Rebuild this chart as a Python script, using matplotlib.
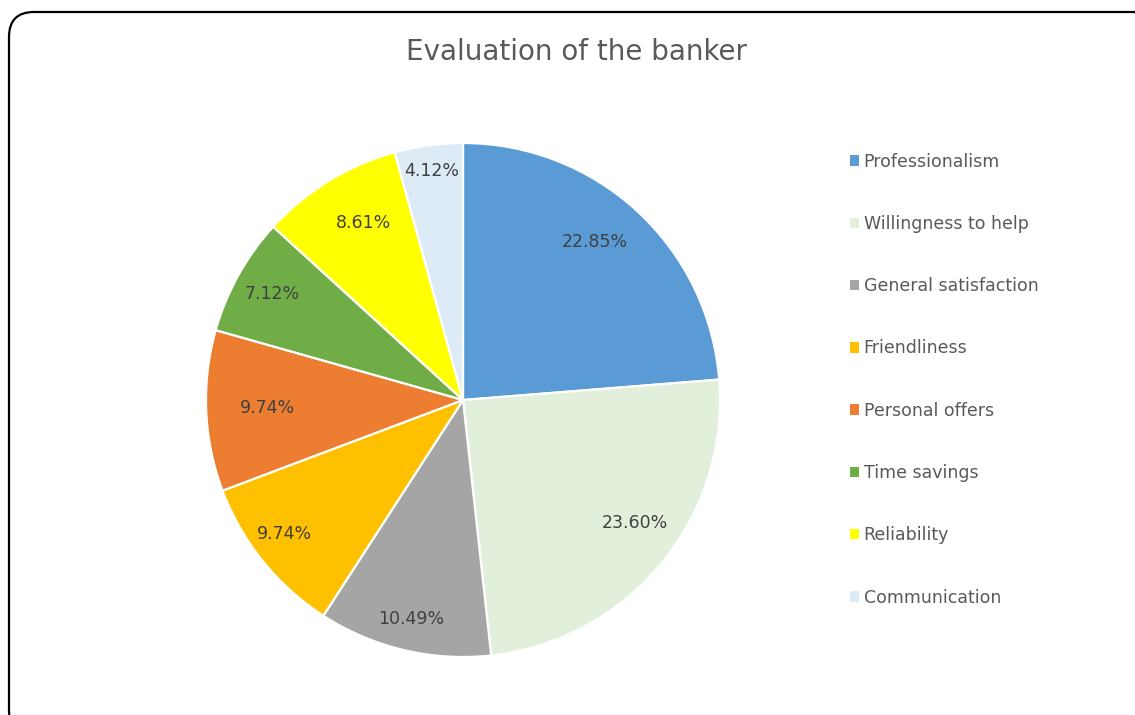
import matplotlib
matplotlib.use("Agg")
import numpy as np
import matplotlib.pyplot as plt
from matplotlib.patches import FancyBboxPatch

plt.rcParams['font.family'] = ['DejaVu Sans']

categories = ["Professionalism", "Willingness to help", "General satisfaction",
              "Friendliness", "Personal offers", "Time savings", "Reliability",
              "Communication"]
values = [22.85, 23.60, 10.49, 9.74, 9.74, 7.12, 8.61, 4.12]
labels = ["22.85%", "23.60%", "10.49%", "9.74%", "9.74%", "7.12%", "8.61%", "4.12%"]
colors = ["#5B9BD5", "#E2EFDA", "#A5A5A5", "#FFC000", "#ED7D31", "#70AD47",
          "#FFFF00", "#DDEBF7"]
# label placement (excel "best fit" style): radius fraction and angle nudge
label_r = [0.80, 0.82, 0.875, 0.87, 0.76, 0.85, 0.79, 0.90]
label_da = [3, 4, 0, -2, 0, 0, -2, 0]

W, H = 1135, 715
fig = plt.figure(figsize=(W / 100, H / 100), dpi=100)

# chart border (rounded, runs off the right/bottom edge)
border = FancyBboxPatch((9 / W, -20 / H), 1150 / W, 723 / H,
                        boxstyle="round,pad=0,rounding_size=0.022",
                        transform=fig.transFigure, fill=False,
                        edgecolor="black", linewidth=1.6,
                        mutation_aspect=W / H)
fig.patches.append(border)

fig.text(577 / W, 1 - 52 / H, "Evaluation of the banker", ha="center",
         va="center", fontsize=20, color="#595959")

cx, cy, r = 463, 400, 257
ax = fig.add_axes([(cx - r) / W, (H - cy - r) / H, 2 * r / W, 2 * r / H])
wedges, _ = ax.pie(values, colors=colors, startangle=90, counterclock=False,
                   wedgeprops=dict(edgecolor="white", linewidth=1.6))
for w, lab, rr, da in zip(wedges, labels, label_r, label_da):
    ang = np.deg2rad((w.theta1 + w.theta2) / 2 + da)
    ax.text(rr * np.cos(ang), rr * np.sin(ang), lab, ha="center", va="center",
            fontsize=12.5, color="#404040")
ax.set_xlim(-1, 1)
ax.set_ylim(-1, 1)
ax.set_aspect("equal")

leg = fig.legend(wedges, categories, loc="upper left",
                 bbox_to_anchor=(834 / W, 1 - 137 / H), frameon=False,
                 fontsize=12.5, handlelength=0.55, handleheight=0.55,
                 handletextpad=0.25, labelspacing=2.55, labelcolor="#595959")
for h in leg.legend_handles:
    h.set_edgecolor("none")

fig.savefig("out.png", dpi=100)
